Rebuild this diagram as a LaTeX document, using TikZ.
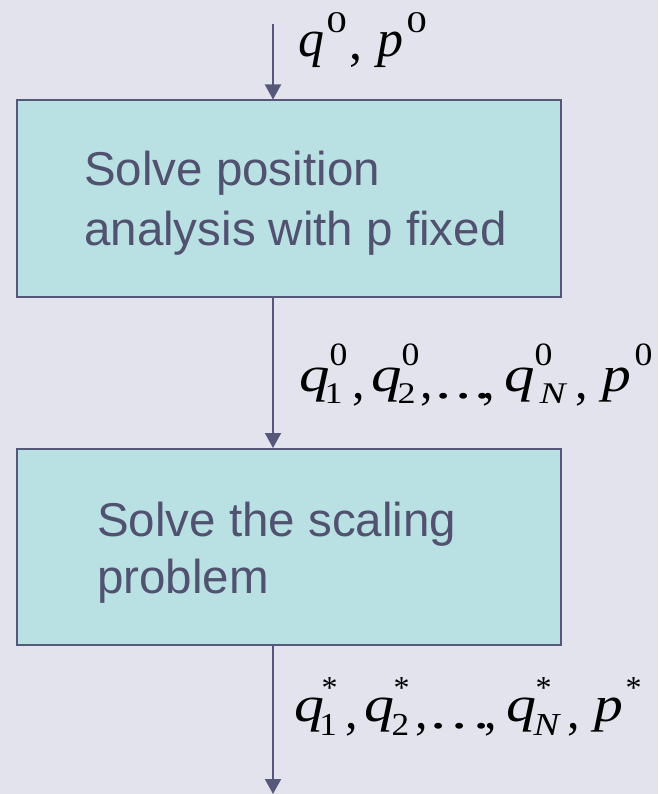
\documentclass[tikz,border=0pt]{standalone}
\usepackage{fontspec}
\setmainfont{Liberation Sans}
\newfontfamily\tms{Liberation Serif}
\usetikzlibrary{arrows.meta}
\definecolor{bg}{HTML}{E3E3EE}
\definecolor{boxfill}{HTML}{B9E0E3}
\definecolor{ink}{HTML}{50526F}
\definecolor{edge}{HTML}{56587A}
\newcommand{\fs}[1]{\fontsize{#1}{#1}\selectfont}
% glyph at x offset #1, raised #2, size #3, horizontal scale #4, content #5
\newcommand{\gl}[5]{\rlap{\kern#1pt\raisebox{#2pt}{\scalebox{#4}[1]{\fs{#3}#5}}}}
\tikzset{
  stepbox/.style={draw=edge, line width=2pt, fill=boxfill, minimum width=544pt, minimum height=196pt, inner sep=0pt},
  boxtext/.style={anchor=base west, text=ink, align=left, inner sep=0pt},
  mlabel/.style={anchor=base west, text=black, inner sep=0pt, font=\tms},
  arr/.style={draw=edge, line width=2pt, -{Triangle[length=15pt,width=16pt]}}
}
\begin{document}
\begin{tikzpicture}[x=1pt,y=-1pt]
\fill[bg] (0,0) rectangle (658,794);
\useasboundingbox (0,0) rectangle (658,794);
\node[stepbox] (b1) at (288.5,198.5) {};
\node[stepbox] (b2) at (288.5,547) {};
\node[boxtext, font=\fontsize{47.5}{59}\selectfont] (t1) at (84,245) {Solve position\\analysis with p fixed};
\node[boxtext, font=\fontsize{47.5}{57}\selectfont] (t2) at (97,593) {Solve the scaling\\problem};
\coordinate (s0) at (273,24);
\coordinate (e0) at (273,794);
\draw[arr] (s0) -- (s0 |- b1.north);
\draw[arr] (b1.south -| s0) -- (b2.north -| s0);
\draw[arr] (b2.south -| s0) -- (e0);
% label 1
\node[mlabel] (l1) at (298,57) {%
  \gl{0}{0}{52}{1}{\itshape q}%
  \gl{28}{24}{30}{1.35}{0}%
  \gl{50.4}{-3}{52}{1}{,}%
  \gl{78.9}{0}{52}{1}{\itshape p}%
  \gl{108}{24}{30}{1.35}{0}};
% label 2
\node[mlabel] (l2) at (299,391) {%
  \gl{0}{0}{50}{1.22}{\itshape q}%
  \gl{30}{26}{32.5}{1.1}{0}%
  \gl{25}{-12}{30}{1.2}{1}%
  \gl{52.5}{-7}{50}{1}{,}%
  \gl{72}{0}{50}{1.22}{\itshape q}%
  \gl{102}{26}{32.5}{1.1}{0}%
  \gl{98}{-12}{30}{1.2}{2}%
  \gl{120.5}{-7}{50}{1}{,}%
  \gl{135.5}{-7}{50}{1.3}{.}%
  \gl{155.5}{-7}{50}{1.3}{.}%
  \gl{174.5}{-7}{50}{1.3}{.}%
  \gl{182.5}{-7}{50}{1}{,}%
  \gl{205}{0}{50}{1.22}{\itshape q}%
  \gl{235}{26}{32.5}{1.1}{0}%
  \gl{240}{-12}{30}{1.3}{\itshape N}%
  \gl{275.5}{-7}{50}{1}{,}%
  \gl{302.75}{0}{50}{1.15}{\itshape p}%
  \gl{335}{26}{32.5}{1.1}{0}};
% label 3
\node[mlabel] (l3) at (293,721) {%
  \gl{1}{0}{50}{1.2}{\itshape q}%
  \gl{28}{22.4}{32}{1}{*}%
  \gl{25.7}{-14}{32}{1.1}{1}%
  \gl{51.5}{-7}{50}{1}{,}%
  \gl{71}{0}{50}{1.2}{\itshape q}%
  \gl{100}{22.4}{32}{1}{*}%
  \gl{98}{-14}{32}{1.1}{2}%
  \gl{121.5}{-7}{50}{1}{,}%
  \gl{136.5}{-7}{50}{1.3}{.}%
  \gl{158}{-7}{50}{1.3}{.}%
  \gl{179.5}{-7}{50}{1.3}{.}%
  \gl{190.5}{-7}{50}{1}{,}%
  \gl{213}{0}{50}{1.2}{\itshape q}%
  \gl{242}{22.4}{32}{1}{*}%
  \gl{240}{-14}{32}{1.2}{\itshape N}%
  \gl{273.5}{-7}{50}{1}{,}%
  \gl{300.75}{0}{50}{1.15}{\itshape p}%
  \gl{332}{22.4}{32}{1}{*}};
\end{tikzpicture}
\end{document}
